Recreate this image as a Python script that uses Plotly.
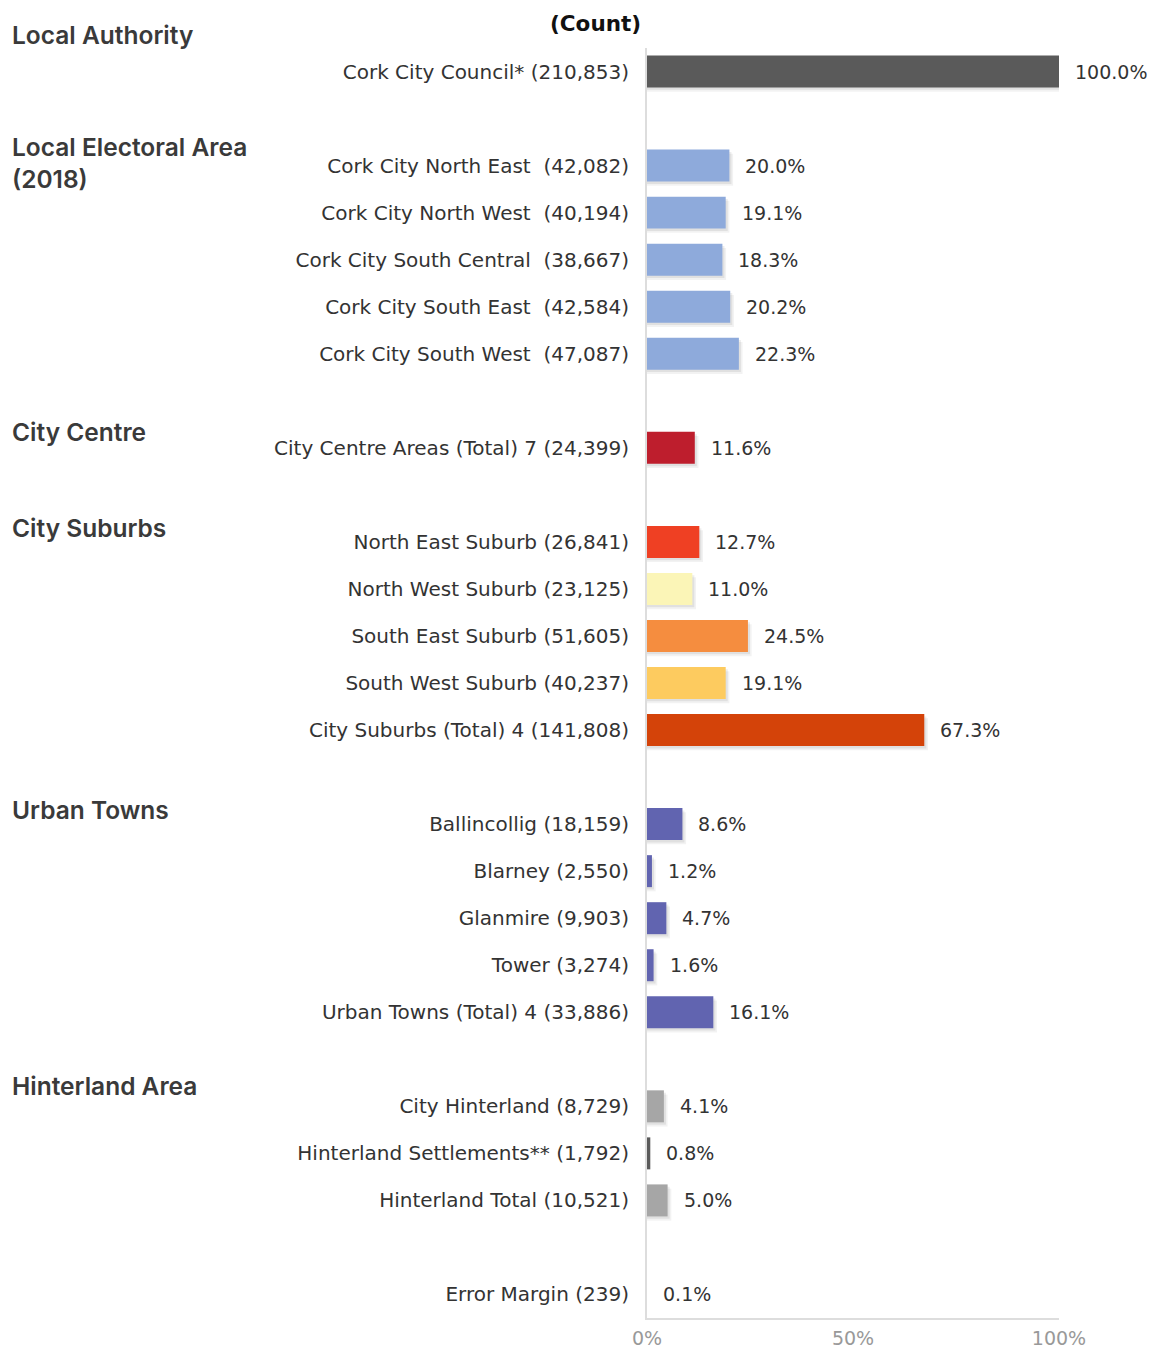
import plotly.graph_objects as go

# ---------------- data ----------------
group_titles = ["Local Authority", "Local Electoral Area<br>(2018)", "City Centre",
                "City Suburbs", "Urban Towns", "Hinterland Area", ""]
names = ["Cork City Council*",
         "Cork City North East\u00a0", "Cork City North West\u00a0", "Cork City South Central\u00a0",
         "Cork City South East\u00a0", "Cork City South West\u00a0",
         "City Centre Areas (Total) 7",
         "North East Suburb", "North West Suburb", "South East Suburb", "South West Suburb",
         "City Suburbs (Total) 4",
         "Ballincollig", "Blarney", "Glanmire", "Tower", "Urban Towns (Total) 4",
         "City Hinterland", "Hinterland Settlements**", "Hinterland Total",
         "Error Margin"]
group_of = [0, 1, 1, 1, 1, 1, 2, 3, 3, 3, 3, 3, 4, 4, 4, 4, 4, 5, 5, 5, 6]
counts = [210853, 42082, 40194, 38667, 42584, 47087, 24399, 26841, 23125, 51605, 40237,
          141808, 18159, 2550, 9903, 3274, 33886, 8729, 1792, 10521, 239]
percents = [100.0, 20.0, 19.1, 18.3, 20.2, 22.3, 11.6, 12.7, 11.0, 24.5, 19.1, 67.3,
            8.6, 1.2, 4.7, 1.6, 16.1, 4.1, 0.8, 5.0, 0.1]
colors = ["#5a5a5a",
          "#8eaadb", "#8eaadb", "#8eaadb", "#8eaadb", "#8eaadb",
          "#be1e2d",
          "#ef4023", "#fbf5b7", "#f58d3f", "#fdcb5f", "#d44309",
          "#6164b0", "#6164b0", "#6164b0", "#6164b0", "#6164b0",
          "#a6a6a6", "#5a5a5a", "#a6a6a6", "#ffffff"]
x_tick_vals = [0, 50, 100]
x_tick_text = ["0%", "50%", "100%"]

# ---------------- layout geometry ----------------
W, H = 1149, 1351
ML, MR, MT, MB = 647, 90, 48, 33
PW, PH = W - ML - MR, H - MT - MB

# rows: one blank row between groups
rows = []
r = -1
for i, g in enumerate(group_of):
    r += 1
    if i > 0 and g != group_of[i - 1]:
        r += 1
    rows.append(r)
n_rows = rows[-1] + 1

labels = [f"{n} ({c:,})" for n, c in zip(names, counts)]
FONT = "DejaVu Sans"
HFONT = "Inter"
FS = 20

fig = go.Figure()
# soft shadow layers
for dx, dy, a in [(0.9, 0.09, 0.05), (0.5, 0.05, 0.07)]:
    fig.add_trace(go.Bar(
        y=rows, x=[p + dx if p > 1 else 0 for p in percents], orientation="h",
        width=0.68, offset=-0.34 + dy, base=0,
        marker=dict(color=f"rgba(0,0,0,{a})", line=dict(width=0)),
        hoverinfo="skip", showlegend=False))
fig.add_trace(go.Bar(
    y=rows, x=percents, orientation="h", width=0.68,
    marker=dict(color=colors, line=dict(width=0)),
    showlegend=False, hovertemplate="%{x:.1f}%<extra></extra>"))

# value labels
for row, p in zip(rows, percents):
    fig.add_annotation(x=p, y=row, xref="x", yref="y", text=f"{p:.1f}%",
                       xanchor="left", xshift=14, showarrow=False,
                       font=dict(family=FONT, size=19, color="#333333"))

def px_x(px):
    return (px - ML) / PW

def px_y(py):
    return 1 - (py - MT) / PH

# group headings
heading_px = [35, 163, 432, 528, 810, 1086]
for t, py in zip(group_titles, heading_px):
    fig.add_annotation(x=px_x(10), y=px_y(py), xref="paper", yref="paper", text=t,
                       xanchor="left", yanchor="middle", align="left", showarrow=False,
                       font=dict(family=HFONT, size=24.5, color="#3a3a3a", weight=600))
fig.add_annotation(x=px_x(595), y=px_y(24), xref="paper", yref="paper", text="(Count)",
                   xanchor="center", yanchor="middle", showarrow=False,
                   font=dict(family=FONT, size=21.5, color="#111111", weight=700))

fig.update_layout(
    width=W, height=H, margin=dict(l=ML, r=MR, t=MT, b=MB, autoexpand=False),
    paper_bgcolor="white", plot_bgcolor="white", barmode="overlay",
    font=dict(family=FONT, size=FS, color="#333333"),
    xaxis=dict(range=[0, 100], tickvals=x_tick_vals, ticktext=x_tick_text,
               showgrid=False, zeroline=False, showline=True, linecolor="#dddddd",
               linewidth=2, ticks="", ticklabelstandoff=2,
               tickfont=dict(size=19, color="#999999")),
    yaxis=dict(range=[n_rows - 0.5, -0.5], tickvals=rows, ticktext=labels,
               showgrid=False, zeroline=False, showline=True, linecolor="#dddddd",
               linewidth=2, ticks="", ticklabelstandoff=12,
               tickfont=dict(size=FS, color="#333333")),
)

fig.write_html("out.html", config={"displayModeBar": False},
               post_script="document.body.style.margin='0';")
